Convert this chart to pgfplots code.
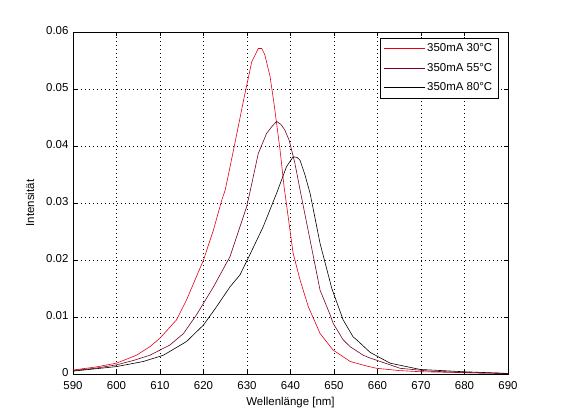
\documentclass[border=0pt]{standalone}
\usepackage{pgfplots}
\pgfplotsset{compat=1.18}
\usepackage{fontspec}
\setmainfont{Liberation Sans}
\definecolor{cA}{RGB}{228,0,20}
\definecolor{cB}{RGB}{120,0,30}
\definecolor{cC}{RGB}{0,0,0}
\begin{document}
\begin{tikzpicture}
\useasboundingbox (-73bp,-46bp) rectangle (488bp,374bp);
\begin{axis}[
  scale only axis,
  width=435bp, height=342bp,
  xmin=590, xmax=690, ymin=0, ymax=0.06,
  scaled y ticks=false,
  xtick={590,600,...,690},
  xticklabels={590,600,610,620,630,640,650,660,670,680,690},
  ytick={0,0.01,0.02,0.03,0.04,0.05,0.06},
  yticklabels={0,0.01,0.02,0.03,0.04,0.05,0.06},
  tick align=inside,
  major tick length=4bp,
  tick style={black, line width=0.5pt},
  grid=major,
  major grid style={black, line width=0.6pt, dash pattern=on 0.8bp off 3.2bp},
  axis line style={black, line width=0.6pt},
  font=\fontsize{11.5}{13}\selectfont,
  tick label style={font=\fontsize{11.5}{13}\selectfont},
  xticklabel style={yshift=-3.5bp},
  yticklabel style={xshift=-1bp, yshift=1.5bp},
  xlabel={Wellenlänge [nm]},
  ylabel={Intensität},
  xlabel style={yshift=-1bp},
  ylabel style={yshift=5bp},
  legend style={at={(0.977,0.982)}, anchor=north east, draw=black, line width=0.5pt,
    fill=white, font=\fontsize{11.5}{13}\selectfont, row sep=6bp, inner sep=3.5bp},
  legend cell align=left,
  legend image code/.code={\draw[#1] (0cm,0cm) -- (1.45cm,0cm);},
]
\addplot[cA, line width=0.6pt] coordinates {
(590,0.0007) (595,0.0012) (600,0.0019) (604.6,0.0033) (607.7,0.0048) (610,0.0063)
(613.8,0.0095) (616.1,0.013) (620,0.020) (622.3,0.0253) (624.2,0.0305) (625,0.0323)
(626.9,0.0393) (629.2,0.048) (631.1,0.0548) (632.6,0.0571) (633.4,0.0571) (634.1,0.056)
(635.3,0.0522) (636.2,0.0475) (637.6,0.0393) (638.5,0.0330) (640.6,0.0212) (642.2,0.0165)
(644.1,0.0118) (646.8,0.0071) (649.8,0.0042) (653.7,0.0022) (657.5,0.0014) (659.8,0.001)
(665,0.0006) (669.8,0.0004) (676,0.0003) (682,0.0002) (690,0.0001)
};
\addlegendentry{350mA 30°C}
\addplot[cB, line width=0.6pt] coordinates {
(590,0.0006) (595,0.001) (600,0.0016) (604,0.0024) (607.7,0.0033) (612.3,0.0051)
(615.4,0.0071) (618.4,0.0104) (622.3,0.0153) (626.1,0.0206) (629.9,0.0293) (630.7,0.032)
(632.6,0.0387) (634.5,0.0422) (635.7,0.0434) (636.8,0.0443) (637.8,0.0438) (638.7,0.0428)
(639.7,0.041) (641,0.037) (642.2,0.0323) (644.5,0.0235) (646.8,0.0147) (649.1,0.0104)
(649.8,0.0089) (652.1,0.006) (653.7,0.0048) (656.7,0.0033) (658.3,0.0028) (660.6,0.0022)
(665.2,0.001) (672.1,0.0005) (682,0.0002) (690,0.0001)
};
\addlegendentry{350mA 55°C}
\addplot[cC, line width=0.6pt] coordinates {
(590,0.0005) (595,0.0009) (600,0.0013) (606.2,0.0022) (610.8,0.0033) (616.1,0.0057)
(620,0.0086) (623,0.0118) (626.1,0.0153) (628.4,0.0174) (630.7,0.021) (633.7,0.0258)
(636.8,0.0317) (639.1,0.0364) (640.6,0.0381) (641.5,0.038) (642.2,0.0375) (643.3,0.035)
(644.5,0.0317) (646.8,0.0229) (649.5,0.015) (652.1,0.0095) (654.4,0.0065) (655.2,0.006)
(658.3,0.0038) (662.9,0.0019) (669.8,0.0008) (679.7,0.0004) (690,0.0001)
};
\addlegendentry{350mA 80°C}
\end{axis}
\end{tikzpicture}
\end{document}
